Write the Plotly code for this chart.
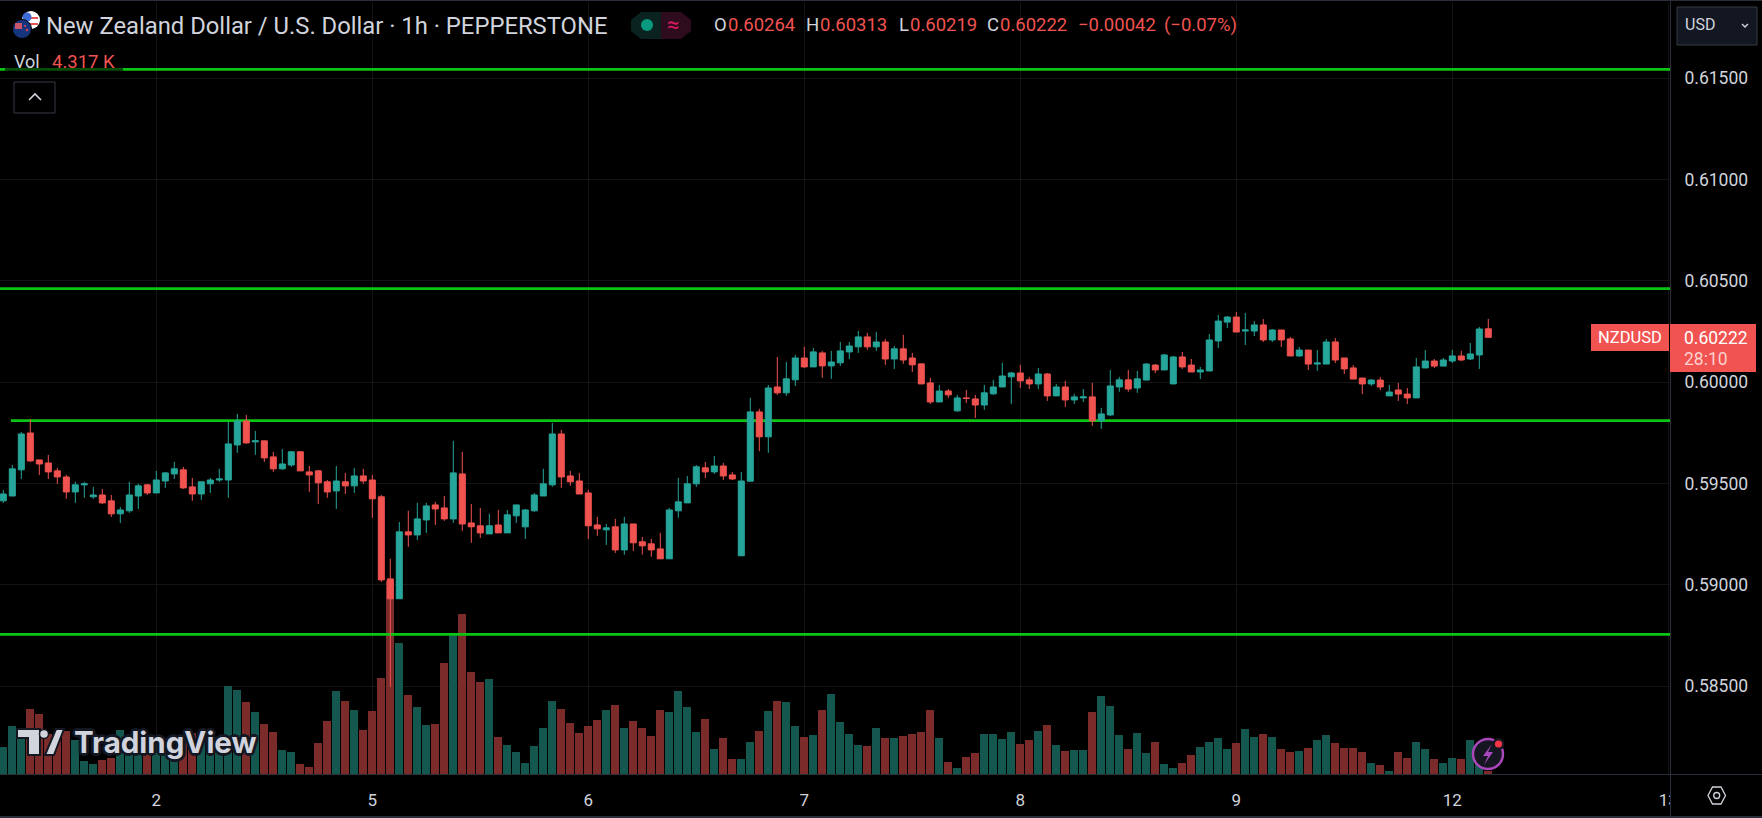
import plotly.graph_objects as go

W, H = 1762, 818

# hourly NZD/USD candles
opens = [
0.59415,0.59439,0.59568,0.59750,0.59617,0.59602,0.59563,0.59533,0.59459,0.59494,
0.59435,0.59444,0.59415,0.59351,0.59366,0.59439,0.59494,0.59454,0.59513,0.59548,
0.59568,0.59484,0.59449,0.59499,0.59518,0.59518,0.59691,0.59809,0.59706,0.59711,
0.59632,0.59573,0.59592,0.59657,0.59558,0.59563,0.59509,0.59464,0.59509,0.59489,
0.59538,0.59518,0.59435,0.59030,0.58932,0.59262,0.59247,0.59321,0.59395,0.59380,
0.59326,0.59548,0.59306,0.59292,0.59252,0.59296,0.59257,0.59341,0.59287,0.59366,
0.59439,0.59494,0.59745,0.59538,0.59513,0.59454,0.59296,0.59272,0.59287,0.59173,
0.59301,0.59213,0.59203,0.59178,0.59129,0.59366,0.59405,0.59499,0.59578,0.59558,
0.59587,0.59543,0.59144,0.59512,0.59854,0.59731,0.59977,0.59948,0.60012,0.60120,
0.60076,0.60145,0.60081,0.60096,0.60150,0.60175,0.60224,0.60175,0.60199,0.60115,
0.60165,0.60120,0.60091,0.59997,0.59903,0.59957,0.59859,0.59923,0.59918,0.59888,
0.59943,0.59977,0.60027,0.60046,0.60012,0.59992,0.60041,0.59933,0.59977,0.59913,
0.59923,0.59928,0.59810,0.59839,0.59977,0.60012,0.59972,0.60011,0.60085,0.60061,
0.59992,0.60125,0.60085,0.60051,0.60056,0.60204,0.60297,0.60322,0.60253,0.60253,
0.60283,0.60209,0.60258,0.60214,0.60130,0.60159,0.60090,0.60090,0.60199,0.60120,
0.60071,0.60021,0.59992,0.60011,0.59933,0.59962,0.59942,0.59923,0.60071,0.60105,
0.60080,0.60105,0.60130,0.60115,0.60135,0.60264]
highs = [
0.59469,0.59592,0.59755,0.59819,0.59617,0.59642,0.59578,0.59543,0.59509,0.59509,
0.59484,0.59474,0.59444,0.59385,0.59509,0.59499,0.59499,0.59563,0.59558,0.59607,
0.59583,0.59528,0.59509,0.59528,0.59573,0.59804,0.59844,0.59839,0.59760,0.59711,
0.59657,0.59671,0.59661,0.59661,0.59587,0.59568,0.59518,0.59587,0.59553,0.59578,
0.59573,0.59543,0.59444,0.59129,0.59311,0.59366,0.59405,0.59405,0.59410,0.59439,
0.59711,0.59657,0.59400,0.59380,0.59351,0.59370,0.59370,0.59395,0.59375,0.59454,
0.59573,0.59800,0.59765,0.59563,0.59553,0.59469,0.59336,0.59301,0.59326,0.59336,
0.59301,0.59237,0.59227,0.59257,0.59380,0.59528,0.59538,0.59592,0.59607,0.59637,
0.59602,0.59558,0.59558,0.59923,0.59869,0.59987,0.60125,0.60100,0.60135,0.60175,
0.60170,0.60155,0.60155,0.60199,0.60199,0.60253,0.60244,0.60249,0.60214,0.60179,
0.60234,0.60145,0.60091,0.60022,0.59987,0.59967,0.59938,0.59962,0.59938,0.59987,
0.60012,0.60096,0.60051,0.60086,0.60027,0.60071,0.60046,0.59992,0.60007,0.59943,
0.59967,0.59997,0.59874,0.60061,0.60027,0.60061,0.60056,0.60095,0.60090,0.60140,
0.60130,0.60150,0.60115,0.60076,0.60238,0.60332,0.60327,0.60347,0.60342,0.60302,
0.60312,0.60263,0.60258,0.60224,0.60174,0.60159,0.60159,0.60214,0.60219,0.60120,
0.60085,0.60021,0.60016,0.60026,0.59987,0.59997,0.59972,0.60120,0.60159,0.60115,
0.60120,0.60159,0.60155,0.60194,0.60273,0.60313]
lows = [
0.59405,0.59439,0.59523,0.59607,0.59543,0.59523,0.59499,0.59425,0.59405,0.59430,
0.59425,0.59400,0.59336,0.59306,0.59356,0.59375,0.59444,0.59454,0.59479,0.59523,
0.59474,0.59415,0.59420,0.59454,0.59509,0.59430,0.59652,0.59696,0.59642,0.59607,
0.59558,0.59568,0.59583,0.59563,0.59459,0.59400,0.59430,0.59375,0.59449,0.59454,
0.59499,0.59331,0.59015,0.58497,0.58932,0.59188,0.59222,0.59257,0.59296,0.59316,
0.59306,0.59267,0.59208,0.59232,0.59252,0.59257,0.59257,0.59306,0.59227,0.59361,
0.59439,0.59484,0.59479,0.59489,0.59449,0.59227,0.59242,0.59198,0.59158,0.59149,
0.59168,0.59149,0.59139,0.59129,0.59129,0.59331,0.59405,0.59484,0.59528,0.59548,
0.59518,0.59518,0.59144,0.59512,0.59660,0.59652,0.59938,0.59933,0.59982,0.60071,
0.60076,0.60022,0.60017,0.60081,0.60115,0.60145,0.60160,0.60155,0.60086,0.60066,
0.60091,0.60051,0.59992,0.59893,0.59903,0.59923,0.59854,0.59898,0.59824,0.59864,
0.59938,0.59977,0.59893,0.59972,0.59967,0.59967,0.59908,0.59933,0.59879,0.59893,
0.59903,0.59785,0.59770,0.59834,0.59953,0.59953,0.59948,0.60011,0.60046,0.60061,
0.59992,0.60066,0.60051,0.60016,0.60056,0.60169,0.60268,0.60248,0.60184,0.60228,
0.60199,0.60199,0.60174,0.60130,0.60125,0.60061,0.60056,0.60090,0.60095,0.60041,
0.60016,0.59942,0.59982,0.59962,0.59933,0.59908,0.59893,0.59923,0.60071,0.60071,
0.60080,0.60095,0.60105,0.60110,0.60066,0.60219]
closes = [
0.59449,0.59573,0.59745,0.59612,0.59597,0.59558,0.59533,0.59459,0.59494,0.59499,
0.59444,0.59405,0.59351,0.59370,0.59444,0.59489,0.59454,0.59518,0.59553,0.59573,
0.59479,0.59449,0.59509,0.59518,0.59523,0.59696,0.59809,0.59701,0.59711,0.59627,
0.59573,0.59597,0.59657,0.59563,0.59543,0.59504,0.59459,0.59513,0.59489,0.59538,
0.59513,0.59425,0.59025,0.58932,0.59262,0.59247,0.59326,0.59390,0.59375,0.59326,
0.59553,0.59301,0.59287,0.59257,0.59292,0.59257,0.59346,0.59395,0.59370,0.59444,
0.59499,0.59745,0.59533,0.59509,0.59449,0.59292,0.59277,0.59282,0.59173,0.59301,
0.59208,0.59193,0.59173,0.59129,0.59370,0.59410,0.59499,0.59583,0.59558,0.59587,
0.59538,0.59523,0.59513,0.59854,0.59731,0.59972,0.59948,0.60017,0.60120,0.60076,
0.60150,0.60081,0.60100,0.60155,0.60179,0.60224,0.60175,0.60199,0.60115,0.60165,
0.60110,0.60086,0.59992,0.59903,0.59957,0.59938,0.59923,0.59920,0.59888,0.59948,
0.59977,0.60031,0.60046,0.60007,0.59992,0.60041,0.59933,0.59977,0.59913,0.59928,
0.59928,0.59810,0.59844,0.59982,0.60012,0.59967,0.60017,0.60090,0.60061,0.60135,
0.60125,0.60076,0.60051,0.60061,0.60209,0.60302,0.60322,0.60248,0.60258,0.60283,
0.60209,0.60258,0.60209,0.60130,0.60159,0.60090,0.60095,0.60199,0.60110,0.60066,
0.60016,0.59992,0.60011,0.59977,0.59952,0.59942,0.59923,0.60076,0.60105,0.60080,
0.60110,0.60130,0.60110,0.60140,0.60263,0.60222]
# volume in thousands
volumes = [
33.8,60,48.8,81.3,75,50,42.5,53.8,42.5,16.3,12.5,17.5,20,55,42.5,42.5,38.3,38.3,34.2,30,
42.5,50.8,44.6,46.7,46.7,110,105,90,77.5,62.5,52.5,30,27.5,12.5,8.8,38.8,66.3,103.8,91.3,80,
55,78.8,120,241,164,98.8,83.8,61.3,62.5,138.8,176,200,127.5,115,118.8,46.3,36.3,27.5,13.8,35,
57.5,91.3,81.3,63.8,51.3,60,67.5,80,86.3,57.5,66.3,57.5,47.5,80,77.5,103.8,83.8,52.5,68.8,31.3,
45,18.8,18.8,40,53.8,78.8,91.3,90,60,46.3,48.8,80,100,65,50,36.3,35,57.5,45,45,
47.5,50,52.5,80,45,15,7.5,21.3,26.3,50,50,43.8,52.5,37.5,42.5,53.8,61.3,36.3,28.8,30,
30,77.5,97.5,85,48.8,31.3,51.3,26.3,40,12.5,7.5,13.8,23.8,33.8,40,45,31.3,38.8,56.3,46.3,
50,46.3,31.3,27.5,28.8,32.5,42.5,48.8,38.8,32.5,32.5,27.5,13.8,11.3,3.8,27.5,20,40,31.3,18.8,
13.8,20,18.8,42.5,16.7,4.317]

levels = [0.61544, 0.60462, 0.59811, 0.58756]
level_starts = [-0.367, -0.367, 0.85, -0.367]
price_ticks = [0.585, 0.59, 0.595, 0.6, 0.605, 0.61, 0.615]
day_ticks = [17, 41, 65, 89, 113, 137, 161, 185]
day_labels = ["2", "5", "6", "7", "8", "9", "12", "13"]

UP, DOWN = "#26a69a", "#f05350"
VOL_UP, VOL_DOWN = "#14574f", "#7c2b2b"
TEXT = "#d1d4dc"
GRID = "#141414"
BORDER = "#2a2e39"
LEVEL = "#0cc414"
FONT = "Roboto"

idx = list(range(len(opens)))
X_END = 185.19

fig = go.Figure()
fig.add_trace(go.Bar(
    x=idx, y=volumes, width=8 / 9, yaxis="y",
    marker=dict(color=[VOL_UP if c >= o else VOL_DOWN for o, c in zip(opens, closes)], line_width=0),
    hoverinfo="skip", showlegend=False))
for lv, st in zip(levels, level_starts):
    fig.add_trace(go.Scatter(
        x=[st, X_END], y=[lv, lv], mode="lines", yaxis="y2",
        line=dict(color=LEVEL, width=2.8), hoverinfo="skip", showlegend=False))
fig.add_trace(go.Candlestick(
    x=idx, open=opens, high=highs, low=lows, close=closes, yaxis="y3",
    increasing=dict(line=dict(color=UP, width=1), fillcolor=UP),
    decreasing=dict(line=dict(color=DOWN, width=1), fillcolor=DOWN),
    whiskerwidth=0, hoverinfo="skip", showlegend=False))

PRICE_RANGE = [0.580673, 0.618715]
DOM = [1 - 774 / H, 1 - 3 / H]


def X(v):
    return v / W


def Y(v):
    return 1 - v / H


shapes, notes = [], []


def rect(x0, y0, x1, y1, fill, line=None, lw=1, opacity=1):
    shapes.append(dict(type="rect", xref="paper", yref="paper", x0=X(x0), x1=X(x1), y0=Y(y0), y1=Y(y1),
                       fillcolor=fill, opacity=opacity, layer="above",
                       line=dict(color=line or "rgba(0,0,0,0)", width=lw if line else 0)))


def circle(cx, cy, r, fill, line=None, lw=1):
    shapes.append(dict(type="circle", xref="paper", yref="paper", x0=X(cx - r), x1=X(cx + r), y0=Y(cy - r), y1=Y(cy + r),
                       fillcolor=fill, layer="above",
                       line=dict(color=line or "rgba(0,0,0,0)", width=lw if line else 0)))


def poly(points, fill="rgba(0,0,0,0)", line=None, lw=1, close=True):
    d = "M" + " L".join(f"{X(a):.5f},{Y(b):.5f}" for a, b in points) + (" Z" if close else "")
    shapes.append(dict(type="path", xref="paper", yref="paper", path=d, fillcolor=fill, layer="above",
                       line=dict(color=line or "rgba(0,0,0,0)", width=lw if line else 0)))


def label(text, x, y, size, color=TEXT, anchor="left", family=FONT, **font):
    notes.append(dict(text=text, xref="paper", yref="paper", x=X(x), y=Y(y), xanchor=anchor, yanchor="middle",
                      showarrow=False, borderpad=0, font=dict(size=size, color=color, family=family, **font)))


# frame
rect(1670.5, 0, 1682, 818, "#000000")
rect(0, 0, 1762, 1, BORDER)
rect(0, 816, 1762, 818, BORDER)
rect(0, 774, 1762, 775, BORDER)
rect(1670, 0, 1671, 816, BORDER)

# legend backing that dims the top line
rect(5, 50, 123, 73, "#000000", opacity=0.6)

# flags
circle(31, 20, 9, "#ffffff")
rect(24, 23, 38, 25, "#e25555")
rect(24, 17, 38, 19, "#e25555")
circle(27, 17, 4.5, "#3d6bd6")
circle(22, 29, 9.5, "#16357f", line="#000000", lw=1)
rect(15, 23, 22, 29, "#c8556a")
circle(27, 30, 1.3, "#d94452")
circle(25, 26, 1.1, "#d94452")

# status pill
poly([(641, 12), (661, 12), (661, 39), (641, 39), (631, 31), (631, 20)], "#0b2320")
poly([(661, 12), (681, 12), (691, 20), (691, 31), (681, 39), (661, 39)], "#2e0c1e")
circle(647, 25, 6, "#089981")
label("≈", 673, 25, 22, "#d81b60", "center")

# collapse button
shapes.append(dict(type="rect", xref="paper", yref="paper", x0=X(14), x1=X(55), y0=Y(82), y1=Y(113),
                   fillcolor="#000000", layer="above", line=dict(color="#363a45", width=1)))
poly([(29, 100), (35, 94), (41, 100)], line=TEXT, lw=1.6, close=False)

# currency button
shapes.append(dict(type="rect", xref="paper", yref="paper", x0=X(1677), x1=X(1757), y0=Y(7), y1=Y(45),
                   fillcolor="#131722", layer="above", line=dict(color="#363a45", width=1)))
poly([(1742, 24), (1745, 27), (1748, 24)], line=TEXT, lw=1.4, close=False)

# price flags
rect(1591, 324, 1669, 351, DOWN)
rect(1670, 324, 1756, 372, DOWN)

# logo
poly([(17, 729), (40, 729), (40, 755), (28, 755), (28, 738), (17, 738)], TEXT, "#131722", 2)
circle(44, 734, 4.5, TEXT, "#131722", 1.5)
poly([(56, 729), (64, 729), (54, 755), (45, 755)], TEXT, "#131722", 2)

# alert bubble
circle(1488, 754, 15, "#161622", "#ab47bc", 2.4)
poly([(1492, 744), (1483, 756), (1488, 756), (1484, 765), (1493, 752), (1488, 752)], "#ab47bc")
circle(1498.5, 744, 6, "#161622")
circle(1498.5, 744, 3.6, "#f23645")

# settings hexagon
poly([(1708, 795.5), (1712.5, 787), (1721, 787), (1725.5, 795.5), (1721, 804), (1712.5, 804)], line=TEXT, lw=1.3)
circle(1716.7, 795.5, 3, "rgba(0,0,0,0)", TEXT, 1.3)

label("New Zealand Dollar / U.S. Dollar · 1h · PEPPERSTONE", 45, 26, 23.8)
label("Vol", 13, 62, 18)
label("4.317 K", 51, 62, 18.5, DOWN)
for letter, val, xa, xb in [("O", "0.60264", 713, 727), ("H", "0.60313", 805, 819),
                            ("L", "0.60219", 898, 909), ("C", "0.60222", 986, 999)]:
    label(letter, xa, 25, 18.5)
    label(val, xb, 25, 18.5, DOWN)
label("−0.00042", 1077, 25, 18.5, DOWN)
label("(−0.07%)", 1163, 25, 18.5, DOWN)
label("USD", 1684, 25, 16)
label("NZDUSD", 1630, 338, 16.5, "#ffffff", "center")
label("0.60222", 1683, 338, 17.5, "#ffffff")
label("28:10", 1683, 359, 17.5, "#fbd0cf")
label("TradingView", 73, 742, 29.5, TEXT, family="Inter", weight=700,
      shadow="2px 2px 0 #131722,-2px 2px 0 #131722,2px -2px 0 #131722,-2px -2px 0 #131722,0 3px 0 #131722,3px 0 0 #131722,-3px 0 0 #131722,0 -3px 0 #131722")

fig.update_layout(
    width=W, height=H, autosize=False,
    margin=dict(l=0, r=0, t=0, b=0, pad=0, autoexpand=False),
    paper_bgcolor="#000000", plot_bgcolor="#000000",
    bargap=0, boxgap=0.33, boxgroupgap=0, showlegend=False,
    font=dict(family=FONT, color=TEXT, size=17),
    xaxis=dict(domain=[0, 1670 / W], range=[-0.367, X_END], tickvals=day_ticks, ticktext=day_labels,
               showgrid=True, gridcolor=GRID, gridwidth=1, zeroline=False, showline=False, automargin=False,
               ticks="outside", ticklen=11, tickcolor="rgba(0,0,0,0)", tickfont=dict(size=17, color=TEXT),
               rangeslider=dict(visible=False), fixedrange=True),
    yaxis=dict(domain=DOM, range=[0, 963.75], visible=False, showgrid=False, zeroline=False, fixedrange=True,
               automargin=False),
    yaxis2=dict(domain=DOM, range=PRICE_RANGE, overlaying="y", side="right", anchor="x", automargin=False,
                tickvals=price_ticks, ticktext=[f"{t:.5f}" for t in price_ticks],
                showgrid=True, gridcolor=GRID, gridwidth=1, zeroline=False, showline=False,
                ticks="outside", ticklen=10, tickcolor="rgba(0,0,0,0)", tickfont=dict(size=17.5, color=TEXT),
                fixedrange=True),
    yaxis3=dict(domain=DOM, range=PRICE_RANGE, overlaying="y", side="right", anchor="x", visible=False,
                showgrid=False, zeroline=False, fixedrange=True, automargin=False),
    shapes=shapes, annotations=notes,
)

fig.write_html("out.html", config=dict(displayModeBar=False),
               post_script="document.body.style.margin='0';document.body.style.background='#000';")
